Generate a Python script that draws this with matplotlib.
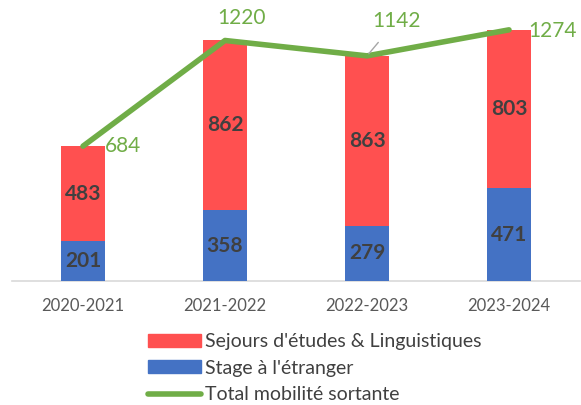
import matplotlib.pyplot as plt
from matplotlib.patches import Patch
from matplotlib.lines import Line2D
import numpy as np

# data
years = ['2020-2021', '2021-2022', '2022-2023', '2023-2024']
stage = [201, 358, 279, 471]
sejours = [483, 862, 863, 803]
total = [684, 1220, 1142, 1274]

RED = '#FF5050'
BLUE = '#4472C4'
GREEN = '#70AD47'
DARK = '#404040'

plt.rcParams['font.family'] = ['Lato', 'DejaVu Sans']

fig = plt.figure(figsize=(5.81, 4.05), dpi=100)
ax = fig.add_axes([12 / 581, 1 - 281 / 405, 568 / 581, 276 / 405])

x = np.arange(len(years))
w = 0.31
ax.bar(x, stage, w, color=BLUE, zorder=2)
ax.bar(x, sejours, w, bottom=stage, color=RED, zorder=2)
ax.plot(x, total, color=GREEN, lw=4, solid_capstyle='round', zorder=3)

for i in range(len(years)):
    ax.text(x[i], stage[i] / 2, str(stage[i]), ha='center', va='center',
            fontsize=15, fontweight='bold', color=DARK, zorder=4)
    ax.text(x[i], stage[i] + sejours[i] / 2, str(sejours[i]), ha='center',
            va='center', fontsize=15, fontweight='bold', color=DARK, zorder=4)

# line labels
ax.annotate(str(total[0]), (x[0], total[0]), xytext=(16, 0),
            textcoords='offset points', ha='left', va='center',
            fontsize=15, color=GREEN)
ax.annotate(str(total[1]), (x[1], total[1]), xytext=(12, 16),
            textcoords='offset points', ha='center', va='center',
            fontsize=15, color=GREEN)
ax.annotate(str(total[2]), (x[2], total[2]), xytext=(21, 25),
            textcoords='offset points', ha='center', va='center',
            fontsize=15, color=GREEN,
            arrowprops=dict(arrowstyle='-', color='#A6A6A6', lw=1,
                            shrinkA=8, shrinkB=2))
ax.annotate(str(total[3]), (x[3], total[3]), xytext=(14, -1),
            textcoords='offset points', ha='left', va='center',
            fontsize=15, color=GREEN)

ax.set_xlim(-0.5, 3.5)
ax.set_ylim(0, 1400)
ax.set_xticks(x)
ax.set_xticklabels(years, fontsize=12, color='#595959')
ax.tick_params(axis='x', length=0, pad=12)
ax.set_yticks([])
for s in ['top', 'left', 'right']:
    ax.spines[s].set_visible(False)
ax.spines['bottom'].set_color('#D9D9D9')
ax.spines['bottom'].set_linewidth(1.2)
ax.spines['bottom'].set_zorder(1)

handles = [Patch(color=RED), Patch(color=BLUE),
           Line2D([0], [0], color=GREEN, lw=4, solid_capstyle='round')]
labels = ["Sejours d'études & Linguistiques", "Stage à l'étranger",
          'Total mobilité sortante']
fig.legend(handles, labels, loc='upper left',
           bbox_to_anchor=(148 / 581, 1 - 333 / 405), frameon=False,
           fontsize=14, handlelength=2.7, handleheight=0.65,
           handletextpad=0.25, labelspacing=0.5, borderpad=0,
           borderaxespad=0, labelcolor='#404040')

fig.savefig('out.png', dpi=100)
